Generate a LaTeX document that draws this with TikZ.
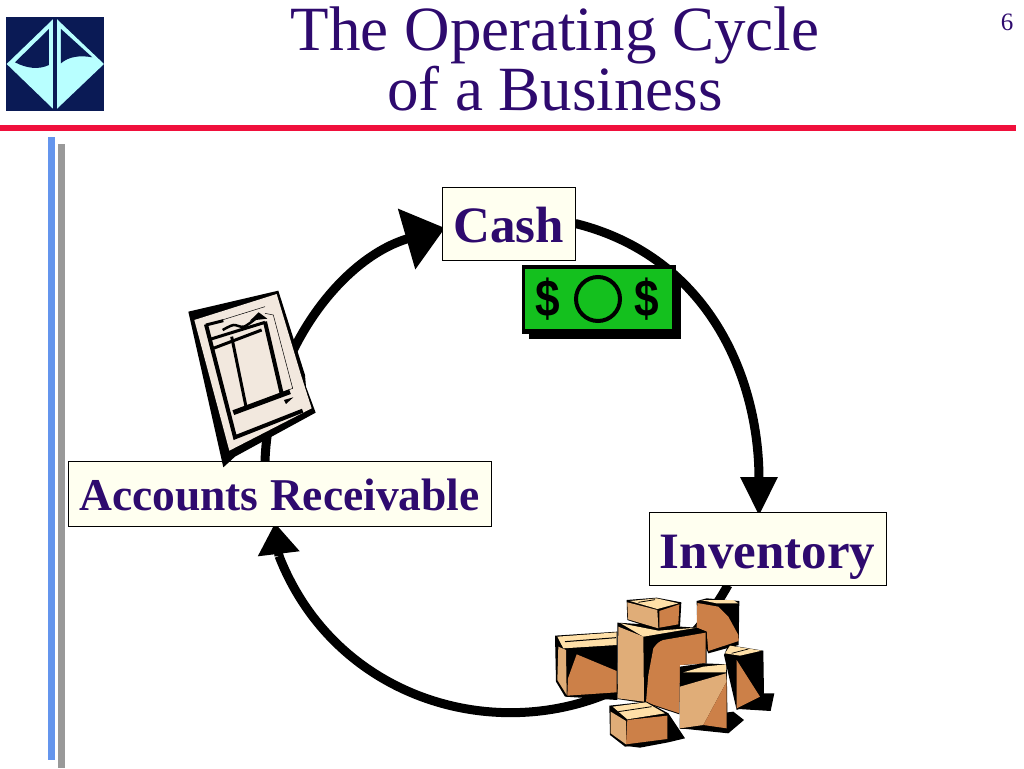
\documentclass[tikz,border=0pt]{standalone}
\usepackage{fontspec}
\setmainfont{Liberation Serif}
\newfontfamily\billfont{Liberation Sans}
\usetikzlibrary{arrows.meta,backgrounds}
\definecolor{ink}{HTML}{2E0A6E}
\definecolor{navy}{HTML}{0A1A55}
\definecolor{pale}{HTML}{B8FFFF}
\definecolor{rulered}{HTML}{F0103C}
\definecolor{barblue}{HTML}{6495ED}
\definecolor{bargrey}{HTML}{999999}
\definecolor{cream}{HTML}{FFFFF0}
\definecolor{paper}{HTML}{F2E8DE}
\definecolor{billgreen}{HTML}{14C01E}
\definecolor{boxlight}{HTML}{E0AD78}
\definecolor{boxdark}{HTML}{CC8048}
\definecolor{boxtop}{HTML}{FFE0A8}
\newcommand{\lowered}[2]{\raisebox{-#1pt}[0pt][0pt]{#2}}
\newcommand{\billsign}{\scalebox{0.85}[1]{\$}}
\tikzset{
  label box/.style={draw=black,line width=0.7pt,fill=cream,text=ink,inner sep=0pt},
  flow/.style={line width=9pt,draw=black},
  title text/.style={text=ink,font=\fontsize{63}{60}\selectfont,align=center,inner sep=0pt},
  ink line/.style={draw=black,line width=#1},
  bill sign/.style={font=\billfont\bfseries\fontsize{52}{52}\selectfont,text=black,inner sep=0pt},
}
\begin{document}
\begin{tikzpicture}[x=1pt,y=-1pt]
\useasboundingbox (0,0) rectangle (1024,768);
% labelled boxes
\node[label box,minimum width=133pt,minimum height=73pt] (cash) at (508.5,223.5) {\fontsize{51}{51}\selectfont\bfseries\lowered{18.5}{Cash}};
\node[label box,minimum width=423pt,minimum height=65pt] (ar) at (279.5,493.5) {\fontsize{45.5}{46}\selectfont\bfseries\lowered{16.5}{Accounts Receivable}};
\node[label box,minimum width=237pt,minimum height=73pt] (inv) at (767.5,548.5) {\fontsize{51}{51}\selectfont\bfseries\lowered{19.5}{Inventory}};
\coordinate (invin) at (759,516);
\coordinate (invout) at (728,585);
\coordinate (arbend) at (279,556);
\coordinate (arin) at (275,523);
\coordinate (arout) at (265,461);
\coordinate (cashin) at (445,228);
\begin{scope}[on background layer]
\fill[white] (0,0) rectangle (1024,768);
\fill[rulered] (0,125) rectangle (1016,131);
\fill[barblue] (48,137) rectangle (55,760);
\fill[bargrey] (58,144) rectangle (65,768);
\draw[flow,-{Triangle[length=39pt,width=35pt]}] (cash.east) to[out=-14,in=90,looseness=1.02] (invin);
\draw[flow] (invout) to[out=-119,in=-68.6,looseness=1.19] (arbend);
\draw[flow,-{Triangle[length=31pt,width=40pt]}] (arbend) -- (arin);
\draw[flow,-{Triangle[length=40pt,width=61pt]}] (arout) to[out=88,in=196,looseness=0.94] (cashin);
\end{scope}
\node[title text] (title) at (555,59) {The Operating Cycle\\of a Business};
\node[text=ink,font=\fontsize{25}{25}\selectfont,inner sep=0pt] (pagenum) at (1007,22) {6};
% logo
\begin{scope}[shift={(0,0)},x=0.3333pt,y=-0.3333pt]
\fill[navy] (18,52) rectangle (312,332);
\fill[pale] (20,192) -- (165,52) -- (312,192) -- (165,332) -- cycle;
\fill[navy] (147,87) -- (147,195) .. controls (115,210) and (80,205) .. (45,187) -- cycle;
\fill[navy] (183,87) -- (277,172) .. controls (240,165) and (205,170) .. (183,190) -- cycle;
\fill[navy] (160,52) rectangle (172,332);
\end{scope}
% banknote
\fill[black] (529,275) rectangle (681,339);
\fill[black] (522,265) rectangle (676,334);
\fill[billgreen] (525,269) rectangle (672,329);
\draw[black,line width=4pt] (598,299) circle[radius=22];
\node[bill sign] (d1) at (548,299) {\billsign};
\node[bill sign] (d2) at (647,299) {\billsign};
% invoice
\begin{scope}[shift={(170,280)},x=0.3333pt,y=-0.3333pt]
\fill[black] (55,95) -- (325,32) -- (405,285) -- (408,320) -- (437,398) -- (195,530) -- (160,562) -- cycle;
\fill[paper] (73,120) -- (320,42) -- (393,285) -- (425,385) -- (178,512) -- cycle;
\draw[ink line=4pt] (108,133) -- (195,472) -- (398,392);
\draw[ink line=0.5pt] (108,135) -- (285,80);
\draw[ink line=0.5pt] (285,100) -- (310,105) -- (368,325) -- (228,380);
\draw[ink line=3pt] (108,135) -- (160,122);
\draw[ink line=3pt] (120,178) -- (285,127);
\draw[ink line=4pt] (285,125) -- (336,345);
\draw[ink line=3pt] (130,205) -- (275,150);
\draw[ink line=3pt] (185,170) -- (228,380);
\draw[ink line=5pt] (190,398) -- (360,335);
\draw[ink line=2.5pt] plot[smooth] coordinates {(158,150) (190,135) (222,140) (262,112)};
\fill[black] (266,97) -- (292,116) -- (240,122) -- cycle;
\fill[black] (342,360) -- (370,352) -- (348,372) -- cycle;
\end{scope}
% parcels
\begin{scope}[shift={(540,585)},x=0.3333pt,y=-0.3333pt]
\fill[black] (420,400) -- (580,380) -- (612,405) -- (565,445) -- (420,430) -- cycle;
\fill[black] (385,385) -- (435,460) -- (385,472) -- (300,488) -- (260,483) -- cycle;
\fill[black] (620,325) -- (703,325) -- (692,378) -- (595,372) -- cycle;
\fill[black] (470,48) -- (500,40) -- (598,48) -- (596,180) -- (505,205) -- (472,130) -- cycle;
\fill[boxdark] (472,54) -- (535,65) -- (565,95) -- (595,150) -- (596,168) -- (505,198) -- (500,140) -- (470,128) -- cycle;
\fill[boxtop] (482,45) -- (580,45) -- (595,55) -- (530,55) -- cycle;
\fill[black] (565,180) -- (670,197) -- (672,325) -- (660,345) -- (590,375) -- (552,210) -- cycle;
\fill[boxdark] (590,225) -- (660,335) -- (590,370) -- cycle;
\fill[boxtop] (570,182) -- (665,197) -- (600,212) -- (555,205) -- cycle;
\draw[ink line=0.7pt] (575,205) -- (625,192);
\fill[black] (45,152) -- (232,140) -- (232,345) -- (75,335) -- (48,290) -- cycle;
\fill[boxtop] (52,155) -- (230,142) -- (230,180) -- (70,190) -- cycle;
\draw[ink line=1pt] (75,170) -- (228,158);
\fill[boxlight] (55,185) -- (78,195) -- (80,330) -- (52,285) -- cycle;
\fill[boxdark] (110,208) -- (230,258) -- (230,322) -- (82,332) -- (84,280) -- cycle;
\fill[black] (232,113) -- (470,128) -- (500,140) -- (500,235) -- (420,240) -- (418,388) -- (318,355) -- (232,342) -- cycle;
\fill[boxlight] (235,125) -- (310,155) -- (312,350) -- (233,340) -- cycle;
\fill[boxtop] (242,115) -- (355,137) -- (470,128) -- (310,155) -- cycle;
\fill[boxdark] (340,190) .. controls (350,175) and (360,168) .. (370,165) -- (497,143) -- (497,235) -- (420,240) -- (418,385) -- (318,352) -- (325,270) -- cycle;
\fill[black] (260,45) -- (350,38) -- (424,52) -- (420,125) -- (355,135) -- (262,105) -- cycle;
\fill[boxlight] (262,52) -- (352,75) -- (355,130) -- (264,103) -- cycle;
\fill[boxtop] (270,48) -- (350,40) -- (415,55) -- (352,72) -- cycle;
\draw[ink line=0.8pt] (295,52) -- (345,44);
\fill[boxdark] (358,78) -- (418,58) -- (415,118) -- (358,128) -- cycle;
\fill[black] (420,245) -- (490,235) -- (560,238) -- (563,432) -- (420,432) -- cycle;
\fill[boxtop] (430,262) -- (490,245) -- (558,238) -- (558,262) -- cycle;
\fill[boxlight] (420,305) -- (558,265) -- (560,290) -- (490,420) -- (420,430) -- cycle;
\fill[boxdark] (490,420) -- (560,290) -- (560,430) -- cycle;
\fill[black] (208,362) -- (320,350) -- (385,385) -- (385,470) -- (255,485) -- (210,450) -- cycle;
\fill[boxtop] (218,365) -- (318,352) -- (375,385) -- (262,403) -- cycle;
\draw[ink line=0.8pt] (235,380) -- (335,365);
\fill[boxlight] (212,380) -- (258,408) -- (258,478) -- (212,445) -- cycle;
\fill[boxdark] (262,405) -- (382,392) -- (382,462) -- (258,478) -- cycle;
\end{scope}
\end{tikzpicture}
\end{document}
